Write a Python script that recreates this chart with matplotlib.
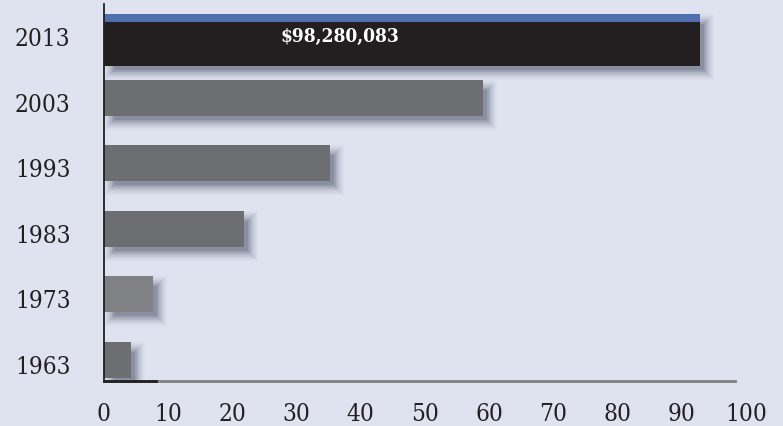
import matplotlib
matplotlib.use("Agg")
import matplotlib.pyplot as plt
from matplotlib.patches import Rectangle
from matplotlib import transforms

years = ["1963", "1973", "1983", "1993", "2003", "2013"]
values = [4.2, 7.6, 21.8, 35.2, 59.0, 92.8]
bar_colors = ["#6d6e72", "#808184", "#6d6e72", "#6d6e72", "#6d6e72", "#231f20"]
top_label = "$98,280,083"
label_x = 36.8
x_ticks = [0, 10, 20, 30, 40, 50, 60, 70, 80, 90, 100]

BG = "#dfe3ef"
FONT = dict(family="DejaVu Serif", stretch="condensed")
W, H = 783, 427
fig = plt.figure(figsize=(W / 100, H / 100), dpi=100, facecolor=BG)
ax_left, ax_right = 104, 746
ax_top, ax_bot = 5, 382
ax = fig.add_axes([ax_left / W, (H - ax_bot) / H, (ax_right - ax_left) / W, (ax_bot - ax_top) / H])
ax.set_facecolor(BG)
ax.set_xlim(0, 100)
ax.set_ylim(-0.32, 5.43)
for s in ax.spines.values():
    s.set_visible(False)

ppx = (ax_right - ax_left) / 100.0
ppy = (ax_bot - ax_top) / 5.75

bar_h = 36 / ppy


def shadow(x0, y0, w, h):
    dx, dy = 7, 7
    layers = [(-3, 0.16), (-1, 0.14), (1, 0.11), (3, 0.08), (5, 0.05), (7, 0.03)]
    tr = transforms.offset_copy(ax.transData, fig=fig, x=dx, y=-dy, units='dots')
    for e, a in layers:
        ex, ey = e / ppx, e / ppy
        ax.add_patch(Rectangle((x0 - ex, y0 - ey), w + 2 * ex, h + 2 * ey,
                               facecolor="#2a2f48", edgecolor="none", alpha=a,
                               transform=tr, zorder=1))


for i, (v, c) in enumerate(zip(values, bar_colors)):
    if i == len(values) - 1:
        top = i + bar_h / 2
        blue_h = 8 / ppy
        black_h = 44 / ppy
        shadow(0, top - blue_h - black_h, v, blue_h + black_h)
        ax.barh(top - blue_h / 2, v, height=blue_h, color="#4f6fad", zorder=3)
        ax.barh(top - blue_h - black_h / 2, v, height=black_h, color=c, zorder=3)
        ax.text(label_x, top - blue_h - 14 / ppy, top_label, color="white",
                fontsize=13.8, fontweight="bold", ha="center", va="center", zorder=4, **FONT)
    else:
        shadow(0, i - bar_h / 2, v, bar_h)
        ax.barh(i, v, height=bar_h, color=c, zorder=3)

# axis lines
ax.plot([0, 0], [-0.32, 5.43], color="#231f20", lw=1.3, zorder=5, clip_on=False)
ax.plot([0, 98.3], [-0.32, -0.32], color="#808184", lw=2, zorder=5, clip_on=False)
ax.plot([0, 8.1], [-0.32, -0.32], color="#231f20", lw=2, zorder=6, clip_on=False)

ax.set_yticks(range(len(years)))
ax.set_yticklabels(years)
ax.set_xticks(x_ticks)
ax.set_xticklabels([str(t) for t in x_ticks])
ax.tick_params(axis="both", length=0, labelsize=17.5, labelcolor="#231f20")
ax.tick_params(axis="y", pad=24)
ax.tick_params(axis="x", pad=15)
for lab in ax.get_yticklabels() + ax.get_xticklabels():
    lab.set_family(FONT["family"])
    lab.set_stretch(FONT["stretch"])
off = transforms.ScaledTranslation(0, -4 / 100, fig.dpi_scale_trans)
for lab in ax.get_yticklabels():
    lab.set_transform(lab.get_transform() + off)

fig.savefig("out.png", dpi=100, facecolor=BG)
